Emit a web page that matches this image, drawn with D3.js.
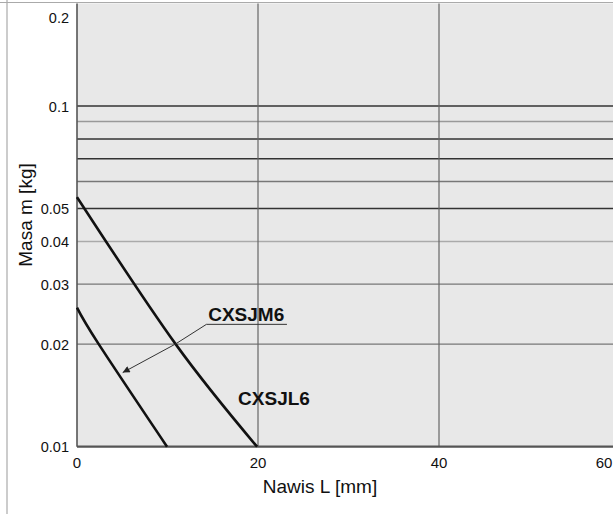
<!DOCTYPE html>
<html><head><meta charset="utf-8">
<script src="https://cdn.jsdelivr.net/npm/d3@7/dist/d3.min.js"></script>
<style>
html,body{margin:0;padding:0;background:#fff;}
svg{display:block;font-family:"Liberation Sans",Arial,sans-serif;}
</style></head>
<body>
<svg id="c" width="613" height="514"></svg>
<script>
// ---- data ----
const xTicks = [0, 20, 40, 60];
const yTickLabels = ["0.01", "0.02", "0.03", "0.04", "0.05", "0.1", "0.2"];
const yTickValues = [0.01, 0.02, 0.03, 0.04, 0.05, 0.1, 0.2];
const gridValues = [0.02, 0.03, 0.04, 0.05, 0.06, 0.07, 0.08, 0.09, 0.1];
const gridShade  = ["#777", "#777", "#aaa", "#333", "#777", "#333", "#333", "#999", "#333"];
const xGrid = [20, 40];
const cxsjl6 = [[0, 0.054], [10.9, 0.02], [19.9, 0.01]];
const cxsjm6 = [[0, 0.0256], [2.4, 0.02], [9.95, 0.01]];
const labelM = {text: "CXSJM6", x: 14.5, y: 0.0234};
const labelL = {text: "CXSJL6", x: 17.8, y: 0.01325};
const leader = [[23.2, 0.02286], [14.3, 0.02286], [10.86, 0.02], [5.05, 0.0165]];

(function () {
// ---- layout ----
const svg = d3.select("#c");
const mLeft = 77, mBottom = 446.7, mTop = 3.4, mRight = 613;
const x = d3.scaleLinear().domain([0, 60]).range([mLeft, 620]);
const y = d3.scaleLog().domain([0.01, 0.2]).range([mBottom, mTop]);

// frame lines
svg.append("line").attr("x1", 7).attr("x2", 7).attr("y1", 0).attr("y2", 514)
  .attr("stroke", "#999").attr("stroke-width", 1);

// plot bg
svg.append("rect").attr("x", mLeft).attr("y", mTop).attr("width", mRight - mLeft).attr("height", mBottom - mTop)
  .attr("fill", "#e8e8e8");
svg.append("line").attr("x1", 0).attr("x2", mRight).attr("y1", 2.5).attr("y2", 2.5)
  .attr("stroke", "#aaa").attr("stroke-width", 1.2);

// grid
svg.append("g").selectAll("line").data(gridValues).join("line")
  .attr("x1", mLeft).attr("x2", mRight)
  .attr("y1", d => y(d)).attr("y2", d => y(d))
  .attr("stroke", (d, i) => gridShade[i]).attr("stroke-width", 1.4);
svg.append("g").selectAll("line").data(xGrid).join("line")
  .attr("x1", d => x(d)).attr("x2", d => x(d))
  .attr("y1", mTop).attr("y2", mBottom)
  .attr("stroke", "#666").attr("stroke-width", 1.2);

// axes lines
svg.append("line").attr("x1", mLeft).attr("x2", mLeft).attr("y1", mTop).attr("y2", mBottom)
  .attr("stroke", "#555").attr("stroke-width", 1.6);
svg.append("line").attr("x1", mLeft).attr("x2", mRight).attr("y1", mBottom).attr("y2", mBottom)
  .attr("stroke", "#555").attr("stroke-width", 2.2);

// y tick labels
svg.append("g").selectAll("text").data(yTickValues).join("text")
  .attr("x", 69).attr("y", (d) => y(d) + (d === 0.2 ? 15 : 0.5))
  .attr("dy", "0.35em").attr("text-anchor", "end")
  .attr("font-size", 14.5).attr("fill", "#111")
  .text((d, i) => yTickLabels[i]);

// x tick labels
svg.append("g").selectAll("text").data(xTicks).join("text")
  .attr("x", d => x(d) + (d === 60 ? -16 : 0)).attr("y", 467.5)
  .attr("text-anchor", "middle")
  .attr("font-size", 15).attr("fill", "#111")
  .text(d => d);

// axis titles
svg.append("text").attr("x", 320).attr("y", 493).attr("text-anchor", "middle")
  .attr("font-size", 19).attr("fill", "#111").text("Nawis L [mm]");
svg.append("text").attr("transform", "translate(32,215) rotate(-90)").attr("text-anchor", "middle")
  .attr("font-size", 19).attr("fill", "#111").text("Masa m [kg]");

// curves
const line = d3.line().x(d => x(d[0])).y(d => y(d[1])).curve(d3.curveNatural);
[cxsjl6, cxsjm6].forEach(s => {
  svg.append("path").attr("d", line(s)).attr("fill", "none")
    .attr("stroke", "#111").attr("stroke-width", 2.6);
});

// arrow marker
svg.append("defs").append("marker").attr("id", "ah")
  .attr("viewBox", "0 0 10 10").attr("refX", 10).attr("refY", 5)
  .attr("markerWidth", 11).attr("markerHeight", 7).attr("markerUnits", "userSpaceOnUse")
  .attr("orient", "auto")
  .append("path").attr("d", "M0,0 L10,5 L0,10 z").attr("fill", "#222");

const lin = d3.line().x(d => x(d[0])).y(d => y(d[1]));
svg.append("path").attr("d", lin(leader)).attr("fill", "none")
  .attr("stroke", "#333").attr("stroke-width", 1).attr("marker-end", "url(#ah)");

// labels
[labelM, labelL].forEach(l => {
  svg.append("text").attr("x", x(l.x)).attr("y", y(l.y))
    .attr("font-size", 19).attr("font-weight", "bold").attr("fill", "#111").text(l.text);
});
})();
</script>
</body></html>
